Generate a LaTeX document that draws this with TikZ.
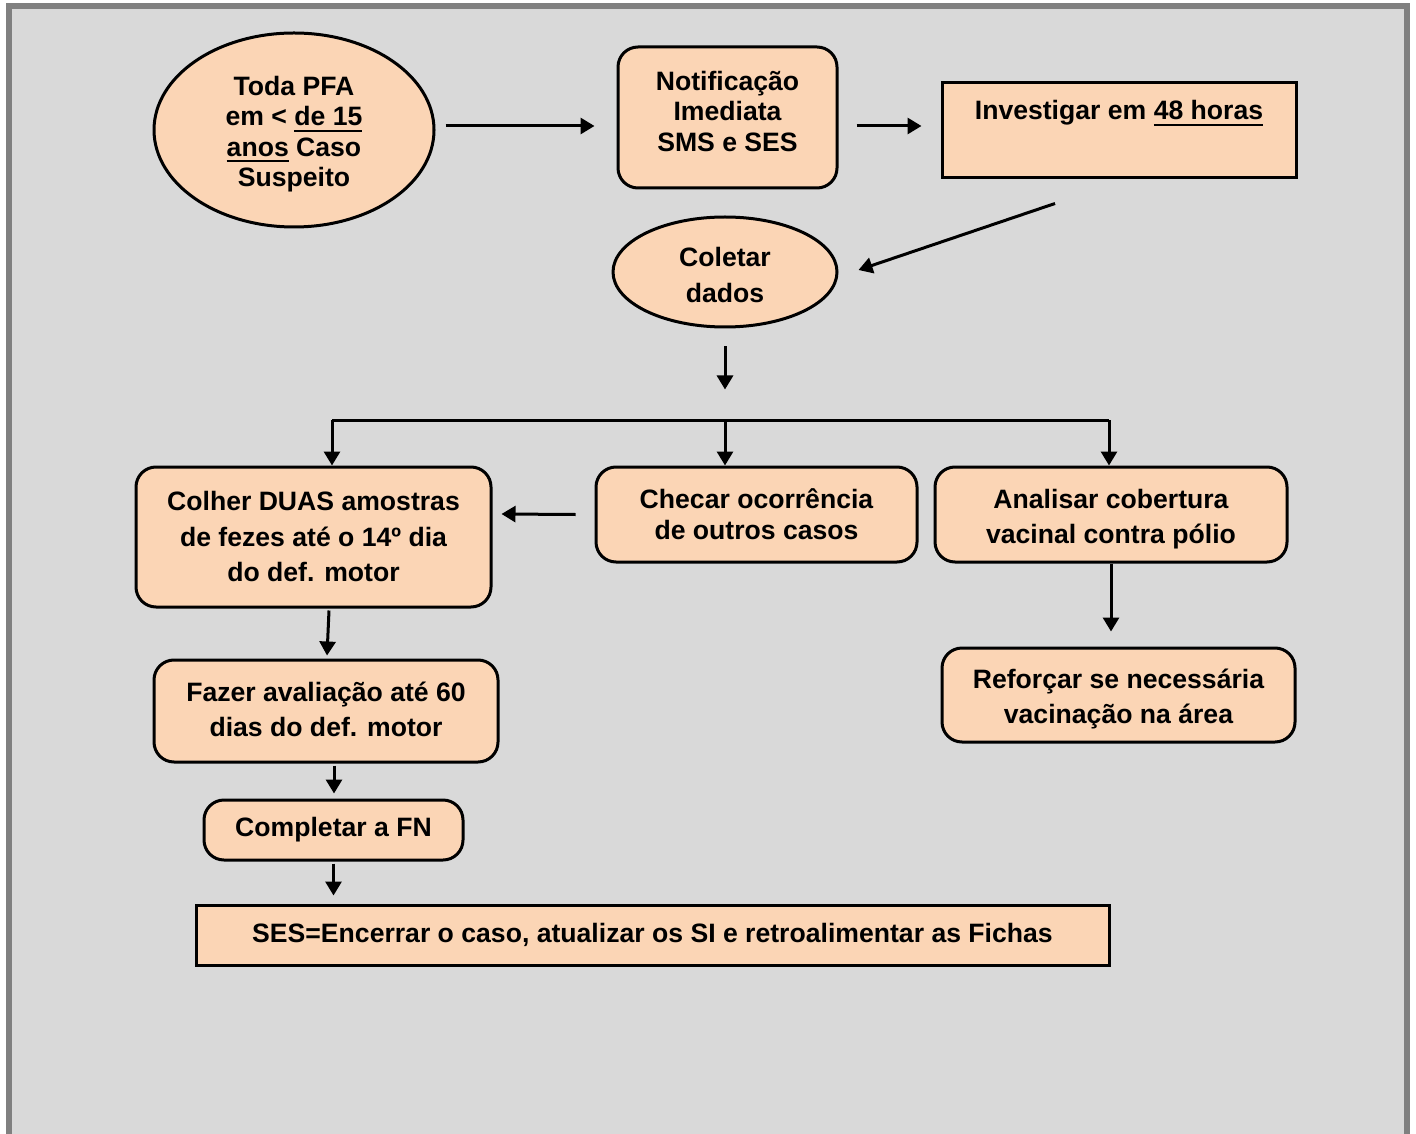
\documentclass[tikz,border=0pt]{standalone}
\usepackage{fontspec}
\setmainfont{Liberation Sans}
\usetikzlibrary{arrows.meta,shapes.geometric}
\definecolor{peach}{HTML}{FBD5B5}
\definecolor{bggray}{HTML}{D9D9D9}
\definecolor{framegray}{HTML}{808080}
\newcommand\tb[2]{\raisebox{#1}[\height][\depth]{\begin{tabular}{@{}c@{}}#2\end{tabular}}}
\newcommand\ulx[1]{\setbox0\hbox{#1}\rlap{\rule[-2.9pt]{\wd0}{0.95pt}}\box0\relax}
\begin{document}
\begin{tikzpicture}[x=0.5pt,y=-0.5pt,
  txt/.style={font=\bfseries\fontsize{13.3}{#1}\selectfont},
  box/.style={draw, line width=1.5pt, fill=peach, rounded corners=10pt, align=center, inner sep=0pt},
  sqbox/.style={box, rounded corners=0pt},
  oval/.style={draw, ellipse, line width=1.5pt, fill=peach, align=center, inner sep=0pt},
  arr/.style={line width=1.5pt, -{Triangle[length=7pt,width=8pt]}},
  ln/.style={line width=1.5pt}]
\useasboundingbox (0,0) rectangle (1416,1133);
\draw[framegray, fill=bggray, line width=3pt] (9,6.5) rectangle (1407,1150);

\node[oval, txt=15.25pt, minimum width=140pt, minimum height=97pt] (pfa) at (294,130)
  {\tb{-2.5pt}{Toda PFA\\em < \ulx{de 15}\\\ulx{anos} Caso\\Suspeito}};
\node[box, txt=15.25pt, minimum width=109.5pt, minimum height=70.5pt] (notif) at (727.5,117.5)
  {\tb{1.5pt}{Notificação\\Imediata\\SMS e SES}};
\node[sqbox, txt=15pt, minimum width=177pt, text height=18.5pt, text depth=29pt] (invest) at (1119,130.5)
  {Investigar em \ulx{48 horas}};
\node[oval, txt=18pt, minimum width=112pt, minimum height=55pt] (colet) at (725,272)
  {\tb{-2.5pt}{Coletar\\dados}};
\node[box, txt=17.75pt, minimum width=177.5pt, minimum height=70pt] (colher) at (313.5,537)
  {\tb{-1pt}{Colher DUAS amostras\\de fezes até o 14º dia\\do def. motor}};
\node[box, txt=15.5pt, minimum width=160.5pt, minimum height=47.5pt] (checar) at (756.5,514.5)
  {\tb{-1.5pt}{Checar ocorrência\\de outros casos}};
\node[box, txt=17.5pt, minimum width=176pt, minimum height=47.5pt] (analisar) at (1111,514.5)
  {\tb{-2pt}{Analisar cobertura\\vacinal contra pólio}};
\node[box, txt=17.5pt, minimum width=172pt, minimum height=51pt] (fazer) at (326,711)
  {\tb{-0.5pt}{Fazer avaliação até 60\\dias do def. motor}};
\node[box, txt=15pt, minimum width=129.5pt, minimum height=30pt] (compl) at (333.5,830)
  {Completar a FN};
\node[sqbox, txt=15pt, minimum width=456.5pt, minimum height=30pt] (ses) at (652.5,935)
  {SES=Encerrar o caso, atualizar os SI e retroalimentar as Fichas};
\node[box, txt=17.5pt, minimum width=176.5pt, minimum height=47pt] (refor) at (1118.5,695)
  {\tb{-2pt}{Reforçar se necessária\\vacinação na área}};

\draw[arr] ([shift={(10,-4)}]pfa.east) -- ([shift={(-22,8.5)}]notif.west);
\draw[arr] ([shift={(18,8.5)}]notif.east) -- ([shift={(-19,-4.5)}]invest.west);
\draw[arr] ([shift={(-64,24)}]invest.south) -- ([shift={(20,-2)}]colet.east);
\draw[arr] ([shift={(0,18)}]colet.south) -- ([shift={(0,61)}]colet.south);

\coordinate (hl) at (332,420);
\coordinate (hr) at (1109,420);
\draw[ln] (hl) -- (hr);
\draw[arr] (hl) -- (hl |- colher.north);
\draw[arr] (colet.south |- hl) -- (colet.south |- checar.north);
\draw[arr] (hr) -- (hr |- analisar.north);

\draw[arr] ([shift={(-19,0)}]checar.west) -- ([shift={(9,-23)}]colher.east);
\draw[arr] ([shift={(15.5,2)}]colher.south) -- ([shift={(1,-3)}]fazer.north);
\draw[arr] ([shift={(8,2)}]fazer.south) -- ([shift={(0.5,-5)}]compl.north);
\draw[arr] ([shift={(0,2)}]compl.south) -- ([shift={(0,-8)}]compl.south |- ses.north);
\draw[arr] (analisar.south) -- ([shift={(0,-15)}]analisar.south |- refor.north);
\end{tikzpicture}
\end{document}
